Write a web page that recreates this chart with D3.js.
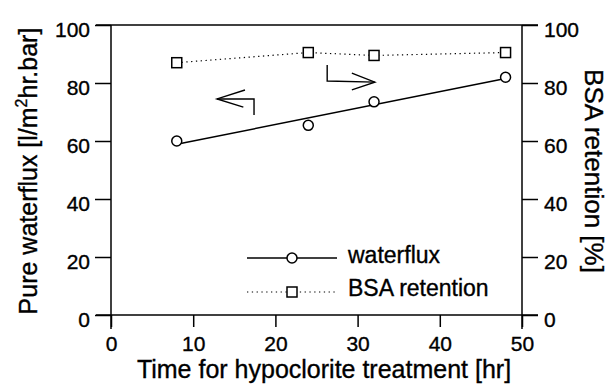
<!DOCTYPE html>
<html>
<head>
<meta charset="utf-8">
<script src="https://cdn.jsdelivr.net/npm/d3@7"></script>
<style>
  body { margin: 0; background: #fff; }
  text { font-family: "Liberation Sans", Arial, Helvetica, sans-serif; fill: #000; stroke: #000; stroke-width: 0.35px; }
</style>
</head>
<body>
<svg id="chart" width="608" height="386"></svg>
<script>

// data
const hours = [8, 24, 32, 48];
const waterflux = [60, 65.4, 73.5, 82];
const bsaRetention = [87, 90.5, 89.5, 90.5];
const xTicks = [0, 10, 20, 30, 40, 50];
const yTicks = [0, 20, 40, 60, 80, 100];

// bent arrows (data units): left one points at the left axis, right one at the right axis
const leftArrow = [[17.4, 69.0], [17.4, 74.5], [12.9, 74.5]];
const leftArrowHead = [[16.3, 77.6], [12.9, 74.5], [16.1, 71.7]];
const rightArrow = [[26.3, 86.2], [26.3, 80.7], [32.1, 80.3]];
const rightArrowHead = [[29.3, 83.4], [32.1, 80.3], [29.3, 77.6]];

const svg = d3.select("#chart");
const padL = 111, padR = 522, padT = 25, padB = 315;
const ink = "#000";

const x = d3.scaleLinear().domain([0, 50]).range([padL, padR]);
const y = d3.scaleLinear().domain([0, 100]).range([padB, padT]);

// frame lines (top and bottom run past the box a bit)
svg.append("line").attr("x1", 96).attr("x2", 538).attr("y1", padT).attr("y2", padT)
  .attr("stroke", ink).attr("stroke-width", 1.5);
svg.append("line").attr("x1", 96).attr("x2", 538).attr("y1", padB).attr("y2", padB)
  .attr("stroke", ink).attr("stroke-width", 1.5);

let yl = svg.append("g").attr("transform", "translate(" + padL + ",0)")
  .call(d3.axisLeft(y).tickValues(yTicks).tickSize(16).tickPadding(5));
let yr = svg.append("g").attr("transform", "translate(" + padR + ",0)")
  .call(d3.axisRight(y).tickValues(yTicks).tickSize(16).tickPadding(6));
let xa = svg.append("g").attr("transform", "translate(0," + padB + ")")
  .call(d3.axisBottom(x).tickValues(xTicks).tickSize(12).tickPadding(9));

[yl, yr, xa].forEach(g => {
  g.select(".domain").remove();
  g.selectAll("line").attr("stroke", ink).attr("stroke-width", 1.5);
  g.selectAll("text").style("font-size", "21px").attr("fill", ink);
});
yl.selectAll("text").attr("dy", "0.55em");
yr.selectAll("text").attr("dy", "0.55em");

// the x ticks at 0 and 50 are the side axes running down
svg.append("line").attr("x1", padL).attr("x2", padL).attr("y1", padT).attr("y2", padB + 14)
  .attr("stroke", ink).attr("stroke-width", 1.5);
svg.append("line").attr("x1", padR).attr("x2", padR).attr("y1", padT).attr("y2", padB + 14)
  .attr("stroke", ink).attr("stroke-width", 1.5);

// axis titles
svg.append("text").attr("x", 324).attr("y", 378)
  .attr("text-anchor", "middle").style("font-size", "25px")
  .text("Time for hypoclorite treatment [hr]");

let lt = svg.append("text").attr("transform", "translate(37,171)rotate(-90)")
  .attr("text-anchor", "middle").style("font-size", "25px");
lt.append("tspan").text("Pure waterflux [l/m");
lt.append("tspan").attr("dy", -10).style("font-size", "16px").text("2");
lt.append("tspan").attr("dy", 10).text("hr.bar]");

svg.append("text").attr("transform", "translate(585,171)rotate(90)")
  .attr("text-anchor", "middle").style("font-size", "26px")
  .text("BSA retention [%]");

// least squares fit through the waterflux points
const mx = d3.mean(hours), my = d3.mean(waterflux);
const slope = d3.sum(hours, (h, i) => (h - mx) * (waterflux[i] - my)) /
  d3.sum(hours, h => (h - mx) * (h - mx));
const fit = t => my + slope * (t - mx);
const t0 = d3.min(hours), t1 = d3.max(hours);

const line = d3.line().x(d => x(d[0])).y(d => y(d[1]));

svg.append("path").attr("d", line([[t0, fit(t0)], [t1, fit(t1)]]))
  .attr("fill", "none").attr("stroke", ink).attr("stroke-width", 1.5);

svg.append("path").attr("d", line(hours.map((h, i) => [h, bsaRetention[i]])))
  .attr("fill", "none").attr("stroke", ink).attr("stroke-width", 1.2)
  .attr("stroke-dasharray", "1.3,3.5");

svg.selectAll(".flux").data(hours).enter().append("circle")
  .attr("class", "flux")
  .attr("cx", d => x(d)).attr("cy", (d, i) => y(waterflux[i])).attr("r", 5)
  .attr("fill", "#fff").attr("stroke", ink).attr("stroke-width", 1.5);

svg.selectAll(".bsa").data(hours).enter().append("rect")
  .attr("class", "bsa")
  .attr("x", d => x(d) - 5).attr("y", (d, i) => y(bsaRetention[i]) - 5)
  .attr("width", 10).attr("height", 10)
  .attr("fill", "#fff").attr("stroke", ink).attr("stroke-width", 1.5);

// arrows
[leftArrow, leftArrowHead, rightArrow, rightArrowHead].forEach(a => {
  svg.append("path").attr("d", line(a))
    .attr("fill", "none").attr("stroke", ink).attr("stroke-width", 1.4);
});

// legend
const legend = svg.append("g").attr("transform", "translate(247,258)");
legend.append("line").attr("x1", 0).attr("x2", 90).attr("y1", 0).attr("y2", 0)
  .attr("stroke", ink).attr("stroke-width", 1.5);
legend.append("circle").attr("cx", 45).attr("cy", 0).attr("r", 5)
  .attr("fill", "#fff").attr("stroke", ink).attr("stroke-width", 1.5);
legend.append("text").attr("x", 101).attr("y", 5).style("font-size", "23px").text("waterflux");

legend.append("line").attr("x1", 0).attr("x2", 88).attr("y1", 34).attr("y2", 34)
  .attr("stroke", ink).attr("stroke-width", 1.2).attr("stroke-dasharray", "1.3,3.5");
legend.append("rect").attr("x", 40).attr("y", 29).attr("width", 10).attr("height", 10)
  .attr("fill", "#fff").attr("stroke", ink).attr("stroke-width", 1.5);
legend.append("text").attr("x", 101).attr("y", 38).style("font-size", "23px").text("BSA retention");

</script>
</body>
</html>
